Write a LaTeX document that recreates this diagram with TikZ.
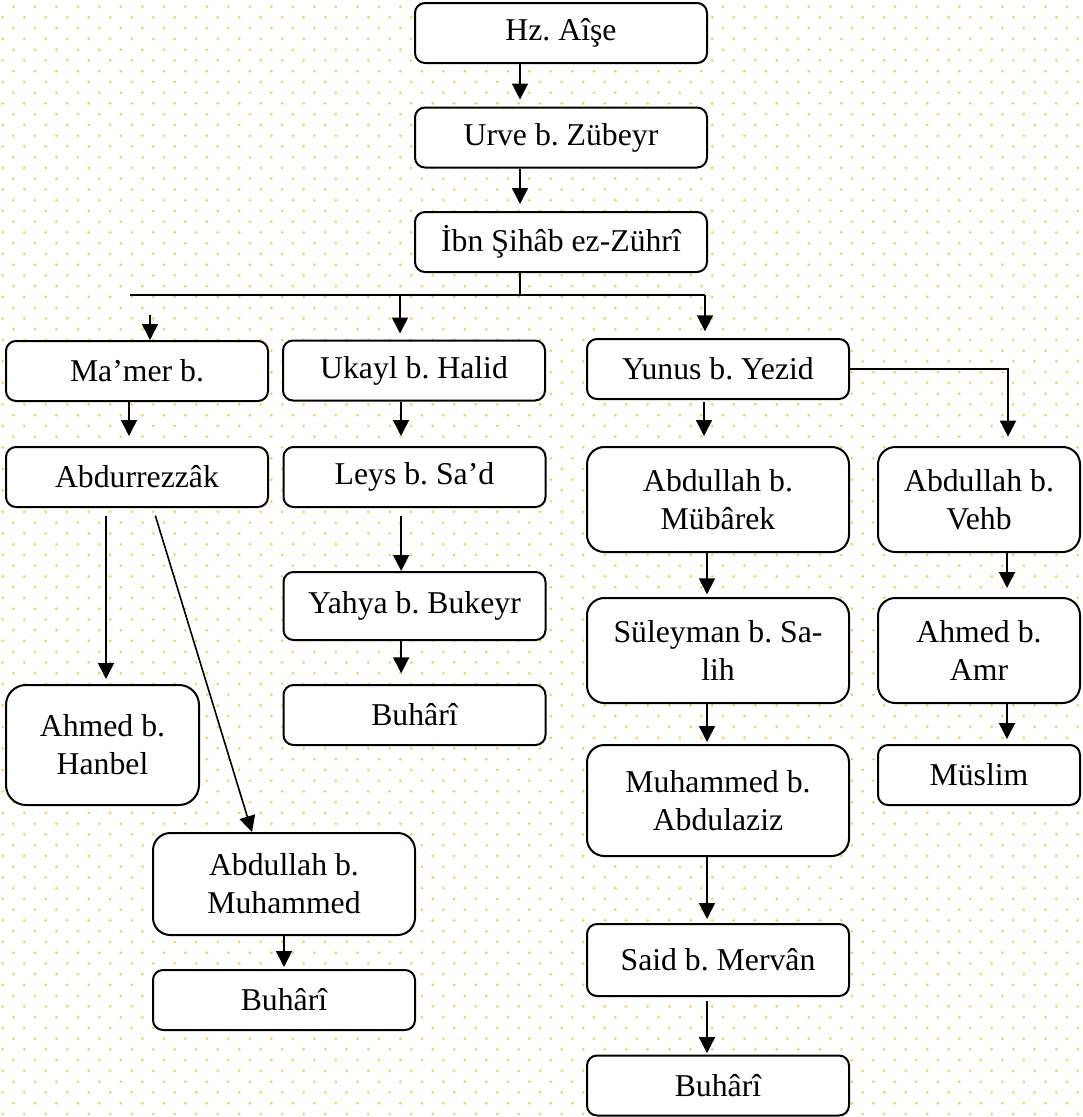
\documentclass[tikz,border=0pt]{standalone}
\usepackage{fontspec}
\setmainfont{Liberation Serif}
\usetikzlibrary{arrows.meta}
\definecolor{griddot}{RGB}{255,205,70}
\frenchspacing
\tikzset{every picture/.style={line width=0.75pt}}
\tikzset{
  box/.style={draw, fill=white, line width=1.5pt, rounded corners=7.5pt, inner sep=0pt, align=center,
    minimum width=196.5pt, minimum height=45pt, font=\fontsize{23.8}{28.7}\selectfont},
  tall/.style={rounded corners=13pt, minimum height=78.75pt},
  link/.style={line width=1.2pt},
  arr/.style={link, -{Triangle[length=12pt,width=12pt]}}
}

\begin{document}
\begin{tikzpicture}[x=0.75pt,y=0.75pt,yscale=-1,xscale=1]

        \useasboundingbox (0,0) rectangle (1082,1117);
        \fill[white] (0,0) rectangle (1082,1117);
        \foreach \i in {0,...,50}
          \foreach \j in {0,...,51}{
            \fill[griddot] (13.3+21.5*\i,6.7+21.5*\j) circle (1.5);
            \fill[griddot] (2.7+21.5*\i,17.3+21.5*\j) circle (1.5);
          }

        \node[box, minimum width=219pt] (aise) at (561,33) {Hz. Aîşe};
        \node[box, minimum width=219pt] (urve) at (561,137.5) {Urve b. Zübeyr};
        \node[box, minimum width=219pt] (ibn) at (561,242) {İbn Şihâb ez-Zührî};

        \node[box] (mamer) at (137,371) {Ma’mer b.};
        \node[box] (ukayl) at (414,370.5) {Ukayl b. Halid};
        \node[box] (yunus) at (718,369) {Yunus b. Yezid};

        \node[box] (abdurrezzak) at (137,477) {Abdurrezzâk};
        \node[box] (leys) at (414.5,477) {Leys b. Sa’d};
        \node[box, tall] (mubarek) at (718,499.5) {Abdullah b.\\Mübârek};
        \node[box, tall, minimum width=151.5pt] (vehb) at (979,499.5) {Abdullah b.\\Vehb};

        \node[box, tall, minimum width=144.75pt, minimum height=90pt, rounded corners=15pt] (hanbel) at (102.5,745) {Ahmed b.\\Hanbel};
        \node[box, tall, minimum height=76.5pt] (abdmuh) at (284,884) {Abdullah b.\\Muhammed};
        \node[box] (buhariA) at (284,1000) {Buhârî};

        \node[box, minimum height=51pt] (yahya) at (414.5,606) {Yahya b. Bukeyr};
        \node[box] (buhariB) at (414.5,715) {Buhârî};

        \node[box, tall] (suleyman) at (718,650.5) {Süleyman b. Sa-\\lih};
        \node[box, tall, minimum height=83.25pt] (muhammed) at (718,800.5) {Muhammed b.\\Abdulaziz};
        \node[box, minimum height=54pt] (said) at (718,960) {Said b. Mervân};
        \node[box] (buhariC) at (718,1085.5) {Buhârî};

        \node[box, tall, minimum width=151.5pt] (amr) at (979,650.5) {Ahmed b.\\Amr};
        \node[box, minimum width=151.5pt] (muslim) at (979,775) {Müslim};

        \coordinate (busL) at (130,295);
        \coordinate (bus) at (520,295);
        \coordinate (busR) at (705,295);

        \draw[arr, shorten >=5.25pt] ([xshift=-30.75pt]aise.south) -- ([xshift=-30.75pt]urve.north);
        \draw[arr, shorten >=5.25pt] ([xshift=-30.75pt]urve.south) -- ([xshift=-30.75pt]ibn.north);
        \draw[link] ([xshift=-30.75pt]ibn.south) -- (bus);
        \draw[link] (busL) -- (busR);

        \draw[arr] ([xshift=9.75pt,yshift=15pt]mamer.north |- bus) -- ([xshift=9.75pt]mamer.north);
        \draw[arr, shorten >=4.5pt] ([xshift=-10.5pt]ukayl.north |- bus) -- ([xshift=-10.5pt]ukayl.north);
        \draw[arr, shorten >=5pt] (busR) -- (busR |- yunus.north);

        \draw[arr, shorten >=7.5pt] ([xshift=-6pt]mamer.south) -- ([xshift=-6pt]abdurrezzak.north);
        \draw[arr, shorten >=7.5pt] ([xshift=-9.75pt]ukayl.south) -- ([xshift=-9.75pt]ukayl.south |- leys.north);
        \draw[arr, shorten <=1.5pt, shorten >=7.5pt] ([xshift=-10.5pt]yunus.south) -- ([xshift=-10.5pt]mubarek.north);
        \draw[arr, shorten >=7pt] (yunus.east) -| ([xshift=21.75pt]vehb.north);

        \draw[arr, shorten <=6pt, shorten >=3.75pt] ([xshift=-23.25pt]abdurrezzak.south) -- ([xshift=-23.25pt]abdurrezzak.south |- hanbel.north);
        \draw[arr, shorten <=6pt] ([xshift=12pt]abdurrezzak.south) -- ([xshift=-24pt]abdmuh.north);
        \draw[arr, shorten >=1.5pt] (abdmuh.south) -- (buhariA.north);

        \draw[arr, shorten <=6pt] ([xshift=-10pt]leys.south) -- ([xshift=-10pt]leys.south |- yahya.north);
        \draw[arr, shorten >=8pt] ([xshift=-10pt]yahya.south) -- ([xshift=-10pt]buhariB.north);

        \draw[arr, shorten >=2pt] ([xshift=-8.25pt]mubarek.south) -- ([xshift=-8.25pt]suleyman.north);
        \draw[arr, shorten >=1.5pt] ([xshift=-8.25pt]suleyman.south) -- ([xshift=-8.25pt]muhammed.north);
        \draw[arr, shorten >=3pt] ([xshift=-8.25pt]muhammed.south) -- ([xshift=-8.25pt]said.north);
        \draw[arr, shorten <=3pt, shorten >=1pt] ([xshift=-8.25pt]said.south) -- ([xshift=-8.25pt]buhariC.north);

        \draw[arr, shorten >=6.75pt] ([xshift=21pt]vehb.south) -- ([xshift=21pt]amr.north);
        \draw[arr, shorten >=3.75pt] ([xshift=21pt]amr.south) -- ([xshift=21pt]muslim.north);

\end{tikzpicture}
\end{document}
